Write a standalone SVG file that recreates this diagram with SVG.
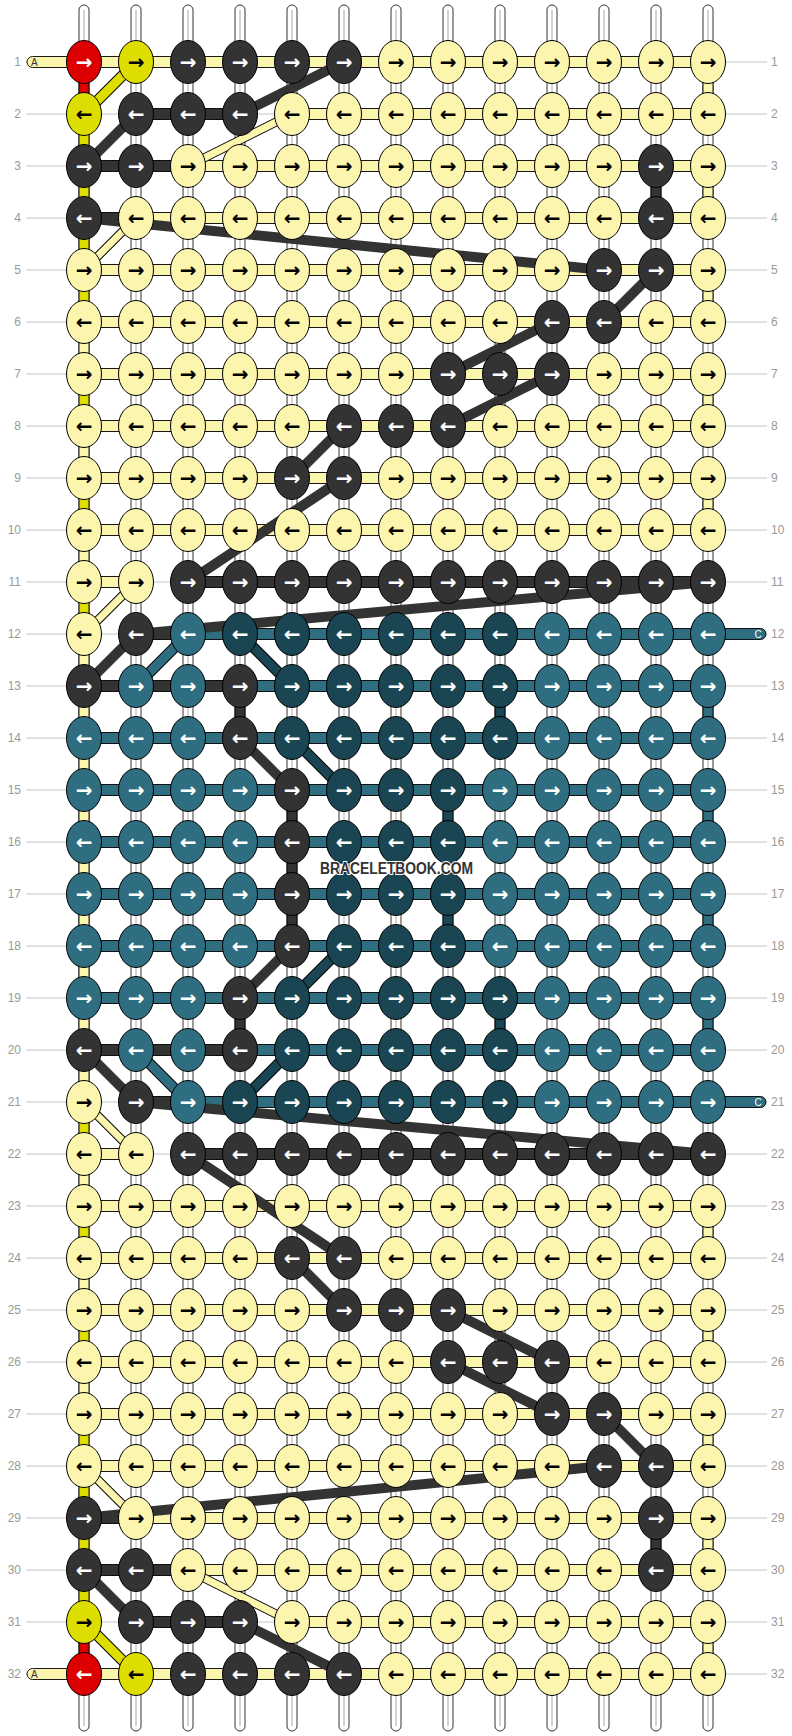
<svg xmlns="http://www.w3.org/2000/svg" width="792" height="1736" viewBox="0 0 792 1736">
<style>
.lab{font:12px "Liberation Sans",Arial,sans-serif;fill:#999}
.le{text-anchor:end}
.gl{stroke:#c4c4c4;stroke-width:1;fill:none}
.col{fill:#fff;stroke:#000;stroke-width:.8}
.cl{stroke:#aaa;stroke-width:1;fill:none}
.h,.v{stroke:#000;stroke-width:.9}
.cL{fill:#FBF5AE}.cD{fill:#333}.cT{fill:#2E6E80}.cS{fill:#1A4552}.cY{fill:#DDDD00}.cR{fill:#DD0000}
.bo{stroke:#000;stroke-width:11}.bo2{stroke:#000;stroke-width:9}
.bD{stroke:#333;stroke-width:10}.bL{stroke:#FBF5AE;stroke-width:7}.bY{stroke:#DDDD00;stroke-width:9}.bT{stroke:#2E6E80;stroke-width:9}.bS{stroke:#1A4552;stroke-width:9}
#knots ellipse{rx:17.5px;ry:21.5px;stroke:#000;stroke-width:1}
#knots text{font:bold 20px "DejaVu Sans",sans-serif;text-anchor:middle;dominant-baseline:central}
.L ellipse{fill:#FBF5AE}.L text{fill:#000}
.D ellipse{fill:#333}.D text{fill:#fff}
.T ellipse{fill:#2E6E80}.T text{fill:#fff}
.S ellipse{fill:#1A4552}.S text{fill:#fff}
.Y ellipse{fill:#DDDD00}.Y text{fill:#000}
.R ellipse{fill:#DD0000}.R text{fill:#fff}
.endA{font:10px "Liberation Sans",Arial,sans-serif;fill:#333}
.endC{font:10px "Liberation Sans",Arial,sans-serif;fill:#fff;text-anchor:middle}
.wm{font:bold 16px "Liberation Sans",Arial,sans-serif;fill:#333;stroke:#fff;stroke-width:2;paint-order:stroke}
</style>
<rect width="792" height="1736" fill="#fff"/>
<g id="guides">
<path class="gl" d="M26 62H767M26 114H767M26 166H767M26 218H767M26 270H767M26 322H767M26 374H767M26 426H767M26 478H767M26 530H767M26 582H767M26 634H767M26 686H767M26 738H767M26 790H767M26 842H767M26 894H767M26 946H767M26 998H767M26 1050H767M26 1102H767M26 1154H767M26 1206H767M26 1258H767M26 1310H767M26 1362H767M26 1414H767M26 1466H767M26 1518H767M26 1570H767M26 1622H767M26 1674H767"/>
</g>
<g id="labels" class="lab">
<text class="le" x="21" y="66">1</text><text class="le" x="21" y="118">2</text><text class="le" x="21" y="170">3</text><text class="le" x="21" y="222">4</text><text class="le" x="21" y="274">5</text><text class="le" x="21" y="326">6</text><text class="le" x="21" y="378">7</text><text class="le" x="21" y="430">8</text><text class="le" x="21" y="482">9</text><text class="le" x="21" y="534">10</text><text class="le" x="21" y="586">11</text><text class="le" x="21" y="638">12</text><text class="le" x="21" y="690">13</text><text class="le" x="21" y="742">14</text><text class="le" x="21" y="794">15</text><text class="le" x="21" y="846">16</text><text class="le" x="21" y="898">17</text><text class="le" x="21" y="950">18</text><text class="le" x="21" y="1002">19</text><text class="le" x="21" y="1054">20</text><text class="le" x="21" y="1106">21</text><text class="le" x="21" y="1158">22</text><text class="le" x="21" y="1210">23</text><text class="le" x="21" y="1262">24</text><text class="le" x="21" y="1314">25</text><text class="le" x="21" y="1366">26</text><text class="le" x="21" y="1418">27</text><text class="le" x="21" y="1470">28</text><text class="le" x="21" y="1522">29</text><text class="le" x="21" y="1574">30</text><text class="le" x="21" y="1626">31</text><text class="le" x="21" y="1678">32</text>
<text x="771" y="66">1</text><text x="771" y="118">2</text><text x="771" y="170">3</text><text x="771" y="222">4</text><text x="771" y="274">5</text><text x="771" y="326">6</text><text x="771" y="378">7</text><text x="771" y="430">8</text><text x="771" y="482">9</text><text x="771" y="534">10</text><text x="771" y="586">11</text><text x="771" y="638">12</text><text x="771" y="690">13</text><text x="771" y="742">14</text><text x="771" y="794">15</text><text x="771" y="846">16</text><text x="771" y="898">17</text><text x="771" y="950">18</text><text x="771" y="1002">19</text><text x="771" y="1054">20</text><text x="771" y="1106">21</text><text x="771" y="1158">22</text><text x="771" y="1210">23</text><text x="771" y="1262">24</text><text x="771" y="1314">25</text><text x="771" y="1366">26</text><text x="771" y="1418">27</text><text x="771" y="1470">28</text><text x="771" y="1522">29</text><text x="771" y="1574">30</text><text x="771" y="1626">31</text><text x="771" y="1678">32</text>
</g>
<g id="connectors">
<g id="strands">
<rect class="col" x="79" y="5" width="10" height="1726" rx="5"/><rect class="col" x="131" y="5" width="10" height="1726" rx="5"/><rect class="col" x="183" y="5" width="10" height="1726" rx="5"/><rect class="col" x="235" y="5" width="10" height="1726" rx="5"/><rect class="col" x="287" y="5" width="10" height="1726" rx="5"/><rect class="col" x="339" y="5" width="10" height="1726" rx="5"/><rect class="col" x="391" y="5" width="10" height="1726" rx="5"/><rect class="col" x="443" y="5" width="10" height="1726" rx="5"/><rect class="col" x="495" y="5" width="10" height="1726" rx="5"/><rect class="col" x="547" y="5" width="10" height="1726" rx="5"/><rect class="col" x="599" y="5" width="10" height="1726" rx="5"/><rect class="col" x="651" y="5" width="10" height="1726" rx="5"/><rect class="col" x="703" y="5" width="10" height="1726" rx="5"/>
<path class="cl" d="M84 10V1726M136 10V1726M188 10V1726M240 10V1726M292 10V1726M344 10V1726M396 10V1726M448 10V1726M500 10V1726M552 10V1726M604 10V1726M656 10V1726M708 10V1726"/>
</g>
<g id="verticals" class="v">
<rect class="cR" x="79" y="77" width="10" height="22"/><rect class="cY" x="79" y="129" width="10" height="22"/><rect class="cY" x="79" y="181" width="10" height="22"/><rect class="cY" x="79" y="233" width="10" height="22"/><rect class="cY" x="79" y="285" width="10" height="22"/><rect class="cL" x="79" y="337" width="10" height="22"/><rect class="cY" x="79" y="389" width="10" height="22"/><rect class="cL" x="79" y="441" width="10" height="22"/><rect class="cY" x="79" y="493" width="10" height="22"/><rect class="cL" x="79" y="545" width="10" height="22"/><rect class="cY" x="79" y="597" width="10" height="22"/><rect class="cL" x="79" y="649" width="10" height="22"/><rect class="cL" x="79" y="701" width="10" height="22"/><rect class="cL" x="79" y="753" width="10" height="22"/><rect class="cL" x="79" y="805" width="10" height="22"/><rect class="cL" x="79" y="857" width="10" height="22"/><rect class="cL" x="79" y="909" width="10" height="22"/><rect class="cL" x="79" y="961" width="10" height="22"/><rect class="cL" x="79" y="1013" width="10" height="22"/><rect class="cL" x="79" y="1065" width="10" height="22"/><rect class="cY" x="79" y="1117" width="10" height="22"/><rect class="cL" x="79" y="1169" width="10" height="22"/><rect class="cY" x="79" y="1221" width="10" height="22"/><rect class="cL" x="79" y="1273" width="10" height="22"/><rect class="cY" x="79" y="1325" width="10" height="22"/><rect class="cL" x="79" y="1377" width="10" height="22"/><rect class="cY" x="79" y="1429" width="10" height="22"/><rect class="cY" x="79" y="1481" width="10" height="22"/><rect class="cY" x="79" y="1533" width="10" height="22"/><rect class="cY" x="79" y="1585" width="10" height="22"/><rect class="cR" x="79" y="1637" width="10" height="22"/>
<rect class="cL" x="703" y="77" width="10" height="22"/><rect class="cL" x="703" y="181" width="10" height="22"/><rect class="cL" x="703" y="285" width="10" height="22"/><rect class="cL" x="703" y="389" width="10" height="22"/><rect class="cL" x="703" y="493" width="10" height="22"/><rect class="cT" x="703" y="701" width="10" height="22"/><rect class="cT" x="703" y="805" width="10" height="22"/><rect class="cT" x="703" y="909" width="10" height="22"/><rect class="cT" x="703" y="1013" width="10" height="22"/><rect class="cL" x="703" y="1221" width="10" height="22"/><rect class="cL" x="703" y="1325" width="10" height="22"/><rect class="cL" x="703" y="1429" width="10" height="22"/><rect class="cL" x="703" y="1533" width="10" height="22"/><rect class="cL" x="703" y="1637" width="10" height="22"/>
<rect class="cD" x="651" y="181" width="10" height="22"/><rect class="cD" x="235" y="701" width="10" height="22"/><rect class="cS" x="495" y="701" width="10" height="22"/><rect class="cD" x="287" y="805" width="10" height="22"/><rect class="cS" x="443" y="805" width="10" height="22"/><rect class="cD" x="287" y="857" width="10" height="22"/><rect class="cD" x="287" y="909" width="10" height="22"/><rect class="cS" x="443" y="909" width="10" height="22"/><rect class="cD" x="235" y="1013" width="10" height="22"/><rect class="cS" x="495" y="1013" width="10" height="22"/><rect class="cD" x="651" y="1533" width="10" height="22"/>
</g>
<g id="horizontals" class="h">
<rect class="cL" x="27" y="56.5" width="681" height="11" rx="5.5"/>
<rect class="cD" x="136" y="108.5" width="104" height="11"/><rect class="cL" x="292" y="108.5" width="416" height="11"/>
<rect class="cD" x="84" y="160.5" width="104" height="11"/><rect class="cL" x="188" y="160.5" width="520" height="11"/>
<rect class="cD" x="84" y="212.5" width="52" height="11"/><rect class="cL" x="136" y="212.5" width="572" height="11"/>
<rect class="cL" x="84" y="264.5" width="624" height="11"/><rect class="cL" x="84" y="316.5" width="624" height="11"/><rect class="cL" x="84" y="368.5" width="624" height="11"/><rect class="cL" x="84" y="420.5" width="624" height="11"/><rect class="cL" x="84" y="472.5" width="624" height="11"/><rect class="cL" x="84" y="524.5" width="624" height="11"/>
<rect class="cL" x="84" y="576.5" width="52" height="11"/><rect class="cD" x="188" y="576.5" width="520" height="11"/>
<rect class="cD" x="136" y="628.5" width="52" height="11"/><rect class="cT" x="188" y="628.5" width="578" height="11" rx="5.5"/>
<rect class="cD" x="84" y="680.5" width="156" height="11"/><rect class="cT" x="240" y="680.5" width="468" height="11"/>
<rect class="cT" x="84" y="732.5" width="624" height="11"/><rect class="cT" x="84" y="784.5" width="624" height="11"/><rect class="cT" x="84" y="836.5" width="624" height="11"/><rect class="cT" x="84" y="888.5" width="624" height="11"/><rect class="cT" x="84" y="940.5" width="624" height="11"/><rect class="cT" x="84" y="992.5" width="624" height="11"/>
<rect class="cD" x="84" y="1044.5" width="156" height="11"/><rect class="cT" x="240" y="1044.5" width="468" height="11"/>
<rect class="cD" x="136" y="1096.5" width="52" height="11"/><rect class="cT" x="188" y="1096.5" width="578" height="11" rx="5.5"/>
<rect class="cL" x="84" y="1148.5" width="52" height="11"/><rect class="cD" x="188" y="1148.5" width="520" height="11"/>
<rect class="cL" x="84" y="1200.5" width="624" height="11"/><rect class="cL" x="84" y="1252.5" width="624" height="11"/><rect class="cL" x="84" y="1304.5" width="624" height="11"/><rect class="cL" x="84" y="1356.5" width="624" height="11"/><rect class="cL" x="84" y="1408.5" width="624" height="11"/><rect class="cL" x="84" y="1460.5" width="624" height="11"/>
<rect class="cD" x="84" y="1512.5" width="52" height="11"/><rect class="cL" x="136" y="1512.5" width="572" height="11"/>
<rect class="cD" x="84" y="1564.5" width="104" height="11"/><rect class="cL" x="188" y="1564.5" width="520" height="11"/>
<rect class="cD" x="136" y="1616.5" width="104" height="11"/><rect class="cL" x="292" y="1616.5" width="416" height="11"/>
<rect class="cL" x="27" y="1668.5" width="681" height="11" rx="5.5"/>
</g>
<g id="ends">
<text class="endA" x="31" y="65.5">A</text><text class="endA" x="31" y="1677.5">A</text>
<text class="endC" x="758" y="637.5">C</text><text class="endC" x="758" y="1105.5">C</text>
</g>
<g id="bands">
<line class="bo" x1="136" y1="62" x2="84" y2="114"/><line class="bY" x1="136" y1="62" x2="84" y2="114"/>
<line class="bD" x1="344" y1="62" x2="240" y2="114"/>
<line class="bD" x1="136" y1="114" x2="84" y2="166"/>
<line class="bo2" x1="292" y1="114" x2="188" y2="166"/><line class="bL" x1="292" y1="114" x2="188" y2="166"/>
<line class="bD" x1="84" y1="218" x2="604" y2="270"/>
<line class="bo2" x1="136" y1="218" x2="84" y2="270"/><line class="bL" x1="136" y1="218" x2="84" y2="270"/>
<line class="bD" x1="656" y1="270" x2="604" y2="322"/>
<line class="bD" x1="552" y1="322" x2="448" y2="374"/>
<line class="bD" x1="552" y1="374" x2="448" y2="426"/>
<line class="bD" x1="344" y1="426" x2="292" y2="478"/>
<line class="bD" x1="344" y1="478" x2="188" y2="582"/>
<line class="bo2" x1="136" y1="582" x2="84" y2="634"/><line class="bL" x1="136" y1="582" x2="84" y2="634"/>
<line class="bD" x1="708" y1="582" x2="136" y2="634"/>
<line class="bD" x1="136" y1="634" x2="84" y2="686"/>
<line class="bo" x1="188" y1="634" x2="136" y2="686"/><line class="bT" x1="188" y1="634" x2="136" y2="686"/>
<line class="bo" x1="240" y1="634" x2="292" y2="686"/><line class="bS" x1="240" y1="634" x2="292" y2="686"/>
<line class="bD" x1="240" y1="738" x2="292" y2="790"/>
<line class="bo" x1="292" y1="738" x2="344" y2="790"/><line class="bS" x1="292" y1="738" x2="344" y2="790"/>
<line class="bo" x1="292" y1="998" x2="344" y2="946"/><line class="bS" x1="292" y1="998" x2="344" y2="946"/>
<line class="bD" x1="240" y1="998" x2="292" y2="946"/>
<line class="bo" x1="240" y1="1102" x2="292" y2="1050"/><line class="bS" x1="240" y1="1102" x2="292" y2="1050"/>
<line class="bo" x1="188" y1="1102" x2="136" y2="1050"/><line class="bT" x1="188" y1="1102" x2="136" y2="1050"/>
<line class="bD" x1="136" y1="1102" x2="84" y2="1050"/>
<line class="bD" x1="708" y1="1154" x2="136" y2="1102"/>
<line class="bo2" x1="136" y1="1154" x2="84" y2="1102"/><line class="bL" x1="136" y1="1154" x2="84" y2="1102"/>
<line class="bD" x1="344" y1="1258" x2="188" y2="1154"/>
<line class="bD" x1="344" y1="1310" x2="292" y2="1258"/>
<line class="bD" x1="552" y1="1362" x2="448" y2="1310"/>
<line class="bD" x1="552" y1="1414" x2="448" y2="1362"/>
<line class="bD" x1="656" y1="1466" x2="604" y2="1414"/>
<line class="bo2" x1="136" y1="1518" x2="84" y2="1466"/><line class="bL" x1="136" y1="1518" x2="84" y2="1466"/>
<line class="bD" x1="84" y1="1518" x2="604" y2="1466"/>
<line class="bo2" x1="292" y1="1622" x2="188" y2="1570"/><line class="bL" x1="292" y1="1622" x2="188" y2="1570"/>
<line class="bD" x1="136" y1="1622" x2="84" y2="1570"/>
<line class="bD" x1="344" y1="1674" x2="240" y2="1622"/>
<line class="bo" x1="136" y1="1674" x2="84" y2="1622"/><line class="bY" x1="136" y1="1674" x2="84" y2="1622"/>
</g>
</g>
<g id="knots">
<g id="k1-1" class="R" transform="translate(84 62)"><ellipse/><text>→</text></g><g id="k1-2" class="Y" transform="translate(136 62)"><ellipse/><text>→</text></g><g id="k1-3" class="D" transform="translate(188 62)"><ellipse/><text>→</text></g><g id="k1-4" class="D" transform="translate(240 62)"><ellipse/><text>→</text></g><g id="k1-5" class="D" transform="translate(292 62)"><ellipse/><text>→</text></g><g id="k1-6" class="D" transform="translate(344 62)"><ellipse/><text>→</text></g><g id="k1-7" class="L" transform="translate(396 62)"><ellipse/><text>→</text></g><g id="k1-8" class="L" transform="translate(448 62)"><ellipse/><text>→</text></g><g id="k1-9" class="L" transform="translate(500 62)"><ellipse/><text>→</text></g><g id="k1-10" class="L" transform="translate(552 62)"><ellipse/><text>→</text></g><g id="k1-11" class="L" transform="translate(604 62)"><ellipse/><text>→</text></g><g id="k1-12" class="L" transform="translate(656 62)"><ellipse/><text>→</text></g><g id="k1-13" class="L" transform="translate(708 62)"><ellipse/><text>→</text></g>
<g id="k2-1" class="Y" transform="translate(84 114)"><ellipse/><text>←</text></g><g id="k2-2" class="D" transform="translate(136 114)"><ellipse/><text>←</text></g><g id="k2-3" class="D" transform="translate(188 114)"><ellipse/><text>←</text></g><g id="k2-4" class="D" transform="translate(240 114)"><ellipse/><text>←</text></g><g id="k2-5" class="L" transform="translate(292 114)"><ellipse/><text>←</text></g><g id="k2-6" class="L" transform="translate(344 114)"><ellipse/><text>←</text></g><g id="k2-7" class="L" transform="translate(396 114)"><ellipse/><text>←</text></g><g id="k2-8" class="L" transform="translate(448 114)"><ellipse/><text>←</text></g><g id="k2-9" class="L" transform="translate(500 114)"><ellipse/><text>←</text></g><g id="k2-10" class="L" transform="translate(552 114)"><ellipse/><text>←</text></g><g id="k2-11" class="L" transform="translate(604 114)"><ellipse/><text>←</text></g><g id="k2-12" class="L" transform="translate(656 114)"><ellipse/><text>←</text></g><g id="k2-13" class="L" transform="translate(708 114)"><ellipse/><text>←</text></g>
<g id="k3-1" class="D" transform="translate(84 166)"><ellipse/><text>→</text></g><g id="k3-2" class="D" transform="translate(136 166)"><ellipse/><text>→</text></g><g id="k3-3" class="L" transform="translate(188 166)"><ellipse/><text>→</text></g><g id="k3-4" class="L" transform="translate(240 166)"><ellipse/><text>→</text></g><g id="k3-5" class="L" transform="translate(292 166)"><ellipse/><text>→</text></g><g id="k3-6" class="L" transform="translate(344 166)"><ellipse/><text>→</text></g><g id="k3-7" class="L" transform="translate(396 166)"><ellipse/><text>→</text></g><g id="k3-8" class="L" transform="translate(448 166)"><ellipse/><text>→</text></g><g id="k3-9" class="L" transform="translate(500 166)"><ellipse/><text>→</text></g><g id="k3-10" class="L" transform="translate(552 166)"><ellipse/><text>→</text></g><g id="k3-11" class="L" transform="translate(604 166)"><ellipse/><text>→</text></g><g id="k3-12" class="D" transform="translate(656 166)"><ellipse/><text>→</text></g><g id="k3-13" class="L" transform="translate(708 166)"><ellipse/><text>→</text></g>
<g id="k4-1" class="D" transform="translate(84 218)"><ellipse/><text>←</text></g><g id="k4-2" class="L" transform="translate(136 218)"><ellipse/><text>←</text></g><g id="k4-3" class="L" transform="translate(188 218)"><ellipse/><text>←</text></g><g id="k4-4" class="L" transform="translate(240 218)"><ellipse/><text>←</text></g><g id="k4-5" class="L" transform="translate(292 218)"><ellipse/><text>←</text></g><g id="k4-6" class="L" transform="translate(344 218)"><ellipse/><text>←</text></g><g id="k4-7" class="L" transform="translate(396 218)"><ellipse/><text>←</text></g><g id="k4-8" class="L" transform="translate(448 218)"><ellipse/><text>←</text></g><g id="k4-9" class="L" transform="translate(500 218)"><ellipse/><text>←</text></g><g id="k4-10" class="L" transform="translate(552 218)"><ellipse/><text>←</text></g><g id="k4-11" class="L" transform="translate(604 218)"><ellipse/><text>←</text></g><g id="k4-12" class="D" transform="translate(656 218)"><ellipse/><text>←</text></g><g id="k4-13" class="L" transform="translate(708 218)"><ellipse/><text>←</text></g>
<g id="k5-1" class="L" transform="translate(84 270)"><ellipse/><text>→</text></g><g id="k5-2" class="L" transform="translate(136 270)"><ellipse/><text>→</text></g><g id="k5-3" class="L" transform="translate(188 270)"><ellipse/><text>→</text></g><g id="k5-4" class="L" transform="translate(240 270)"><ellipse/><text>→</text></g><g id="k5-5" class="L" transform="translate(292 270)"><ellipse/><text>→</text></g><g id="k5-6" class="L" transform="translate(344 270)"><ellipse/><text>→</text></g><g id="k5-7" class="L" transform="translate(396 270)"><ellipse/><text>→</text></g><g id="k5-8" class="L" transform="translate(448 270)"><ellipse/><text>→</text></g><g id="k5-9" class="L" transform="translate(500 270)"><ellipse/><text>→</text></g><g id="k5-10" class="L" transform="translate(552 270)"><ellipse/><text>→</text></g><g id="k5-11" class="D" transform="translate(604 270)"><ellipse/><text>→</text></g><g id="k5-12" class="D" transform="translate(656 270)"><ellipse/><text>→</text></g><g id="k5-13" class="L" transform="translate(708 270)"><ellipse/><text>→</text></g>
<g id="k6-1" class="L" transform="translate(84 322)"><ellipse/><text>←</text></g><g id="k6-2" class="L" transform="translate(136 322)"><ellipse/><text>←</text></g><g id="k6-3" class="L" transform="translate(188 322)"><ellipse/><text>←</text></g><g id="k6-4" class="L" transform="translate(240 322)"><ellipse/><text>←</text></g><g id="k6-5" class="L" transform="translate(292 322)"><ellipse/><text>←</text></g><g id="k6-6" class="L" transform="translate(344 322)"><ellipse/><text>←</text></g><g id="k6-7" class="L" transform="translate(396 322)"><ellipse/><text>←</text></g><g id="k6-8" class="L" transform="translate(448 322)"><ellipse/><text>←</text></g><g id="k6-9" class="L" transform="translate(500 322)"><ellipse/><text>←</text></g><g id="k6-10" class="D" transform="translate(552 322)"><ellipse/><text>←</text></g><g id="k6-11" class="D" transform="translate(604 322)"><ellipse/><text>←</text></g><g id="k6-12" class="L" transform="translate(656 322)"><ellipse/><text>←</text></g><g id="k6-13" class="L" transform="translate(708 322)"><ellipse/><text>←</text></g>
<g id="k7-1" class="L" transform="translate(84 374)"><ellipse/><text>→</text></g><g id="k7-2" class="L" transform="translate(136 374)"><ellipse/><text>→</text></g><g id="k7-3" class="L" transform="translate(188 374)"><ellipse/><text>→</text></g><g id="k7-4" class="L" transform="translate(240 374)"><ellipse/><text>→</text></g><g id="k7-5" class="L" transform="translate(292 374)"><ellipse/><text>→</text></g><g id="k7-6" class="L" transform="translate(344 374)"><ellipse/><text>→</text></g><g id="k7-7" class="L" transform="translate(396 374)"><ellipse/><text>→</text></g><g id="k7-8" class="D" transform="translate(448 374)"><ellipse/><text>→</text></g><g id="k7-9" class="D" transform="translate(500 374)"><ellipse/><text>→</text></g><g id="k7-10" class="D" transform="translate(552 374)"><ellipse/><text>→</text></g><g id="k7-11" class="L" transform="translate(604 374)"><ellipse/><text>→</text></g><g id="k7-12" class="L" transform="translate(656 374)"><ellipse/><text>→</text></g><g id="k7-13" class="L" transform="translate(708 374)"><ellipse/><text>→</text></g>
<g id="k8-1" class="L" transform="translate(84 426)"><ellipse/><text>←</text></g><g id="k8-2" class="L" transform="translate(136 426)"><ellipse/><text>←</text></g><g id="k8-3" class="L" transform="translate(188 426)"><ellipse/><text>←</text></g><g id="k8-4" class="L" transform="translate(240 426)"><ellipse/><text>←</text></g><g id="k8-5" class="L" transform="translate(292 426)"><ellipse/><text>←</text></g><g id="k8-6" class="D" transform="translate(344 426)"><ellipse/><text>←</text></g><g id="k8-7" class="D" transform="translate(396 426)"><ellipse/><text>←</text></g><g id="k8-8" class="D" transform="translate(448 426)"><ellipse/><text>←</text></g><g id="k8-9" class="L" transform="translate(500 426)"><ellipse/><text>←</text></g><g id="k8-10" class="L" transform="translate(552 426)"><ellipse/><text>←</text></g><g id="k8-11" class="L" transform="translate(604 426)"><ellipse/><text>←</text></g><g id="k8-12" class="L" transform="translate(656 426)"><ellipse/><text>←</text></g><g id="k8-13" class="L" transform="translate(708 426)"><ellipse/><text>←</text></g>
<g id="k9-1" class="L" transform="translate(84 478)"><ellipse/><text>→</text></g><g id="k9-2" class="L" transform="translate(136 478)"><ellipse/><text>→</text></g><g id="k9-3" class="L" transform="translate(188 478)"><ellipse/><text>→</text></g><g id="k9-4" class="L" transform="translate(240 478)"><ellipse/><text>→</text></g><g id="k9-5" class="D" transform="translate(292 478)"><ellipse/><text>→</text></g><g id="k9-6" class="D" transform="translate(344 478)"><ellipse/><text>→</text></g><g id="k9-7" class="L" transform="translate(396 478)"><ellipse/><text>→</text></g><g id="k9-8" class="L" transform="translate(448 478)"><ellipse/><text>→</text></g><g id="k9-9" class="L" transform="translate(500 478)"><ellipse/><text>→</text></g><g id="k9-10" class="L" transform="translate(552 478)"><ellipse/><text>→</text></g><g id="k9-11" class="L" transform="translate(604 478)"><ellipse/><text>→</text></g><g id="k9-12" class="L" transform="translate(656 478)"><ellipse/><text>→</text></g><g id="k9-13" class="L" transform="translate(708 478)"><ellipse/><text>→</text></g>
<g id="k10-1" class="L" transform="translate(84 530)"><ellipse/><text>←</text></g><g id="k10-2" class="L" transform="translate(136 530)"><ellipse/><text>←</text></g><g id="k10-3" class="L" transform="translate(188 530)"><ellipse/><text>←</text></g><g id="k10-4" class="L" transform="translate(240 530)"><ellipse/><text>←</text></g><g id="k10-5" class="L" transform="translate(292 530)"><ellipse/><text>←</text></g><g id="k10-6" class="L" transform="translate(344 530)"><ellipse/><text>←</text></g><g id="k10-7" class="L" transform="translate(396 530)"><ellipse/><text>←</text></g><g id="k10-8" class="L" transform="translate(448 530)"><ellipse/><text>←</text></g><g id="k10-9" class="L" transform="translate(500 530)"><ellipse/><text>←</text></g><g id="k10-10" class="L" transform="translate(552 530)"><ellipse/><text>←</text></g><g id="k10-11" class="L" transform="translate(604 530)"><ellipse/><text>←</text></g><g id="k10-12" class="L" transform="translate(656 530)"><ellipse/><text>←</text></g><g id="k10-13" class="L" transform="translate(708 530)"><ellipse/><text>←</text></g>
<g id="k11-1" class="L" transform="translate(84 582)"><ellipse/><text>→</text></g><g id="k11-2" class="L" transform="translate(136 582)"><ellipse/><text>→</text></g><g id="k11-3" class="D" transform="translate(188 582)"><ellipse/><text>→</text></g><g id="k11-4" class="D" transform="translate(240 582)"><ellipse/><text>→</text></g><g id="k11-5" class="D" transform="translate(292 582)"><ellipse/><text>→</text></g><g id="k11-6" class="D" transform="translate(344 582)"><ellipse/><text>→</text></g><g id="k11-7" class="D" transform="translate(396 582)"><ellipse/><text>→</text></g><g id="k11-8" class="D" transform="translate(448 582)"><ellipse/><text>→</text></g><g id="k11-9" class="D" transform="translate(500 582)"><ellipse/><text>→</text></g><g id="k11-10" class="D" transform="translate(552 582)"><ellipse/><text>→</text></g><g id="k11-11" class="D" transform="translate(604 582)"><ellipse/><text>→</text></g><g id="k11-12" class="D" transform="translate(656 582)"><ellipse/><text>→</text></g><g id="k11-13" class="D" transform="translate(708 582)"><ellipse/><text>→</text></g>
<g id="k12-1" class="L" transform="translate(84 634)"><ellipse/><text>←</text></g><g id="k12-2" class="D" transform="translate(136 634)"><ellipse/><text>←</text></g><g id="k12-3" class="T" transform="translate(188 634)"><ellipse/><text>←</text></g><g id="k12-4" class="S" transform="translate(240 634)"><ellipse/><text>←</text></g><g id="k12-5" class="S" transform="translate(292 634)"><ellipse/><text>←</text></g><g id="k12-6" class="S" transform="translate(344 634)"><ellipse/><text>←</text></g><g id="k12-7" class="S" transform="translate(396 634)"><ellipse/><text>←</text></g><g id="k12-8" class="S" transform="translate(448 634)"><ellipse/><text>←</text></g><g id="k12-9" class="S" transform="translate(500 634)"><ellipse/><text>←</text></g><g id="k12-10" class="T" transform="translate(552 634)"><ellipse/><text>←</text></g><g id="k12-11" class="T" transform="translate(604 634)"><ellipse/><text>←</text></g><g id="k12-12" class="T" transform="translate(656 634)"><ellipse/><text>←</text></g><g id="k12-13" class="T" transform="translate(708 634)"><ellipse/><text>←</text></g>
<g id="k13-1" class="D" transform="translate(84 686)"><ellipse/><text>→</text></g><g id="k13-2" class="T" transform="translate(136 686)"><ellipse/><text>→</text></g><g id="k13-3" class="T" transform="translate(188 686)"><ellipse/><text>→</text></g><g id="k13-4" class="D" transform="translate(240 686)"><ellipse/><text>→</text></g><g id="k13-5" class="S" transform="translate(292 686)"><ellipse/><text>→</text></g><g id="k13-6" class="S" transform="translate(344 686)"><ellipse/><text>→</text></g><g id="k13-7" class="S" transform="translate(396 686)"><ellipse/><text>→</text></g><g id="k13-8" class="S" transform="translate(448 686)"><ellipse/><text>→</text></g><g id="k13-9" class="S" transform="translate(500 686)"><ellipse/><text>→</text></g><g id="k13-10" class="T" transform="translate(552 686)"><ellipse/><text>→</text></g><g id="k13-11" class="T" transform="translate(604 686)"><ellipse/><text>→</text></g><g id="k13-12" class="T" transform="translate(656 686)"><ellipse/><text>→</text></g><g id="k13-13" class="T" transform="translate(708 686)"><ellipse/><text>→</text></g>
<g id="k14-1" class="T" transform="translate(84 738)"><ellipse/><text>←</text></g><g id="k14-2" class="T" transform="translate(136 738)"><ellipse/><text>←</text></g><g id="k14-3" class="T" transform="translate(188 738)"><ellipse/><text>←</text></g><g id="k14-4" class="D" transform="translate(240 738)"><ellipse/><text>←</text></g><g id="k14-5" class="S" transform="translate(292 738)"><ellipse/><text>←</text></g><g id="k14-6" class="S" transform="translate(344 738)"><ellipse/><text>←</text></g><g id="k14-7" class="S" transform="translate(396 738)"><ellipse/><text>←</text></g><g id="k14-8" class="S" transform="translate(448 738)"><ellipse/><text>←</text></g><g id="k14-9" class="S" transform="translate(500 738)"><ellipse/><text>←</text></g><g id="k14-10" class="T" transform="translate(552 738)"><ellipse/><text>←</text></g><g id="k14-11" class="T" transform="translate(604 738)"><ellipse/><text>←</text></g><g id="k14-12" class="T" transform="translate(656 738)"><ellipse/><text>←</text></g><g id="k14-13" class="T" transform="translate(708 738)"><ellipse/><text>←</text></g>
<g id="k15-1" class="T" transform="translate(84 790)"><ellipse/><text>→</text></g><g id="k15-2" class="T" transform="translate(136 790)"><ellipse/><text>→</text></g><g id="k15-3" class="T" transform="translate(188 790)"><ellipse/><text>→</text></g><g id="k15-4" class="T" transform="translate(240 790)"><ellipse/><text>→</text></g><g id="k15-5" class="D" transform="translate(292 790)"><ellipse/><text>→</text></g><g id="k15-6" class="S" transform="translate(344 790)"><ellipse/><text>→</text></g><g id="k15-7" class="S" transform="translate(396 790)"><ellipse/><text>→</text></g><g id="k15-8" class="S" transform="translate(448 790)"><ellipse/><text>→</text></g><g id="k15-9" class="T" transform="translate(500 790)"><ellipse/><text>→</text></g><g id="k15-10" class="T" transform="translate(552 790)"><ellipse/><text>→</text></g><g id="k15-11" class="T" transform="translate(604 790)"><ellipse/><text>→</text></g><g id="k15-12" class="T" transform="translate(656 790)"><ellipse/><text>→</text></g><g id="k15-13" class="T" transform="translate(708 790)"><ellipse/><text>→</text></g>
<g id="k16-1" class="T" transform="translate(84 842)"><ellipse/><text>←</text></g><g id="k16-2" class="T" transform="translate(136 842)"><ellipse/><text>←</text></g><g id="k16-3" class="T" transform="translate(188 842)"><ellipse/><text>←</text></g><g id="k16-4" class="T" transform="translate(240 842)"><ellipse/><text>←</text></g><g id="k16-5" class="D" transform="translate(292 842)"><ellipse/><text>←</text></g><g id="k16-6" class="S" transform="translate(344 842)"><ellipse/><text>←</text></g><g id="k16-7" class="S" transform="translate(396 842)"><ellipse/><text>←</text></g><g id="k16-8" class="S" transform="translate(448 842)"><ellipse/><text>←</text></g><g id="k16-9" class="T" transform="translate(500 842)"><ellipse/><text>←</text></g><g id="k16-10" class="T" transform="translate(552 842)"><ellipse/><text>←</text></g><g id="k16-11" class="T" transform="translate(604 842)"><ellipse/><text>←</text></g><g id="k16-12" class="T" transform="translate(656 842)"><ellipse/><text>←</text></g><g id="k16-13" class="T" transform="translate(708 842)"><ellipse/><text>←</text></g>
<g id="k17-1" class="T" transform="translate(84 894)"><ellipse/><text>→</text></g><g id="k17-2" class="T" transform="translate(136 894)"><ellipse/><text>→</text></g><g id="k17-3" class="T" transform="translate(188 894)"><ellipse/><text>→</text></g><g id="k17-4" class="T" transform="translate(240 894)"><ellipse/><text>→</text></g><g id="k17-5" class="D" transform="translate(292 894)"><ellipse/><text>→</text></g><g id="k17-6" class="S" transform="translate(344 894)"><ellipse/><text>→</text></g><g id="k17-7" class="S" transform="translate(396 894)"><ellipse/><text>→</text></g><g id="k17-8" class="S" transform="translate(448 894)"><ellipse/><text>→</text></g><g id="k17-9" class="T" transform="translate(500 894)"><ellipse/><text>→</text></g><g id="k17-10" class="T" transform="translate(552 894)"><ellipse/><text>→</text></g><g id="k17-11" class="T" transform="translate(604 894)"><ellipse/><text>→</text></g><g id="k17-12" class="T" transform="translate(656 894)"><ellipse/><text>→</text></g><g id="k17-13" class="T" transform="translate(708 894)"><ellipse/><text>→</text></g>
<g id="k18-1" class="T" transform="translate(84 946)"><ellipse/><text>←</text></g><g id="k18-2" class="T" transform="translate(136 946)"><ellipse/><text>←</text></g><g id="k18-3" class="T" transform="translate(188 946)"><ellipse/><text>←</text></g><g id="k18-4" class="T" transform="translate(240 946)"><ellipse/><text>←</text></g><g id="k18-5" class="D" transform="translate(292 946)"><ellipse/><text>←</text></g><g id="k18-6" class="S" transform="translate(344 946)"><ellipse/><text>←</text></g><g id="k18-7" class="S" transform="translate(396 946)"><ellipse/><text>←</text></g><g id="k18-8" class="S" transform="translate(448 946)"><ellipse/><text>←</text></g><g id="k18-9" class="T" transform="translate(500 946)"><ellipse/><text>←</text></g><g id="k18-10" class="T" transform="translate(552 946)"><ellipse/><text>←</text></g><g id="k18-11" class="T" transform="translate(604 946)"><ellipse/><text>←</text></g><g id="k18-12" class="T" transform="translate(656 946)"><ellipse/><text>←</text></g><g id="k18-13" class="T" transform="translate(708 946)"><ellipse/><text>←</text></g>
<g id="k19-1" class="T" transform="translate(84 998)"><ellipse/><text>→</text></g><g id="k19-2" class="T" transform="translate(136 998)"><ellipse/><text>→</text></g><g id="k19-3" class="T" transform="translate(188 998)"><ellipse/><text>→</text></g><g id="k19-4" class="D" transform="translate(240 998)"><ellipse/><text>→</text></g><g id="k19-5" class="S" transform="translate(292 998)"><ellipse/><text>→</text></g><g id="k19-6" class="S" transform="translate(344 998)"><ellipse/><text>→</text></g><g id="k19-7" class="S" transform="translate(396 998)"><ellipse/><text>→</text></g><g id="k19-8" class="S" transform="translate(448 998)"><ellipse/><text>→</text></g><g id="k19-9" class="S" transform="translate(500 998)"><ellipse/><text>→</text></g><g id="k19-10" class="T" transform="translate(552 998)"><ellipse/><text>→</text></g><g id="k19-11" class="T" transform="translate(604 998)"><ellipse/><text>→</text></g><g id="k19-12" class="T" transform="translate(656 998)"><ellipse/><text>→</text></g><g id="k19-13" class="T" transform="translate(708 998)"><ellipse/><text>→</text></g>
<g id="k20-1" class="D" transform="translate(84 1050)"><ellipse/><text>←</text></g><g id="k20-2" class="T" transform="translate(136 1050)"><ellipse/><text>←</text></g><g id="k20-3" class="T" transform="translate(188 1050)"><ellipse/><text>←</text></g><g id="k20-4" class="D" transform="translate(240 1050)"><ellipse/><text>←</text></g><g id="k20-5" class="S" transform="translate(292 1050)"><ellipse/><text>←</text></g><g id="k20-6" class="S" transform="translate(344 1050)"><ellipse/><text>←</text></g><g id="k20-7" class="S" transform="translate(396 1050)"><ellipse/><text>←</text></g><g id="k20-8" class="S" transform="translate(448 1050)"><ellipse/><text>←</text></g><g id="k20-9" class="S" transform="translate(500 1050)"><ellipse/><text>←</text></g><g id="k20-10" class="T" transform="translate(552 1050)"><ellipse/><text>←</text></g><g id="k20-11" class="T" transform="translate(604 1050)"><ellipse/><text>←</text></g><g id="k20-12" class="T" transform="translate(656 1050)"><ellipse/><text>←</text></g><g id="k20-13" class="T" transform="translate(708 1050)"><ellipse/><text>←</text></g>
<g id="k21-1" class="L" transform="translate(84 1102)"><ellipse/><text>→</text></g><g id="k21-2" class="D" transform="translate(136 1102)"><ellipse/><text>→</text></g><g id="k21-3" class="T" transform="translate(188 1102)"><ellipse/><text>→</text></g><g id="k21-4" class="S" transform="translate(240 1102)"><ellipse/><text>→</text></g><g id="k21-5" class="S" transform="translate(292 1102)"><ellipse/><text>→</text></g><g id="k21-6" class="S" transform="translate(344 1102)"><ellipse/><text>→</text></g><g id="k21-7" class="S" transform="translate(396 1102)"><ellipse/><text>→</text></g><g id="k21-8" class="S" transform="translate(448 1102)"><ellipse/><text>→</text></g><g id="k21-9" class="S" transform="translate(500 1102)"><ellipse/><text>→</text></g><g id="k21-10" class="T" transform="translate(552 1102)"><ellipse/><text>→</text></g><g id="k21-11" class="T" transform="translate(604 1102)"><ellipse/><text>→</text></g><g id="k21-12" class="T" transform="translate(656 1102)"><ellipse/><text>→</text></g><g id="k21-13" class="T" transform="translate(708 1102)"><ellipse/><text>→</text></g>
<g id="k22-1" class="L" transform="translate(84 1154)"><ellipse/><text>←</text></g><g id="k22-2" class="L" transform="translate(136 1154)"><ellipse/><text>←</text></g><g id="k22-3" class="D" transform="translate(188 1154)"><ellipse/><text>←</text></g><g id="k22-4" class="D" transform="translate(240 1154)"><ellipse/><text>←</text></g><g id="k22-5" class="D" transform="translate(292 1154)"><ellipse/><text>←</text></g><g id="k22-6" class="D" transform="translate(344 1154)"><ellipse/><text>←</text></g><g id="k22-7" class="D" transform="translate(396 1154)"><ellipse/><text>←</text></g><g id="k22-8" class="D" transform="translate(448 1154)"><ellipse/><text>←</text></g><g id="k22-9" class="D" transform="translate(500 1154)"><ellipse/><text>←</text></g><g id="k22-10" class="D" transform="translate(552 1154)"><ellipse/><text>←</text></g><g id="k22-11" class="D" transform="translate(604 1154)"><ellipse/><text>←</text></g><g id="k22-12" class="D" transform="translate(656 1154)"><ellipse/><text>←</text></g><g id="k22-13" class="D" transform="translate(708 1154)"><ellipse/><text>←</text></g>
<g id="k23-1" class="L" transform="translate(84 1206)"><ellipse/><text>→</text></g><g id="k23-2" class="L" transform="translate(136 1206)"><ellipse/><text>→</text></g><g id="k23-3" class="L" transform="translate(188 1206)"><ellipse/><text>→</text></g><g id="k23-4" class="L" transform="translate(240 1206)"><ellipse/><text>→</text></g><g id="k23-5" class="L" transform="translate(292 1206)"><ellipse/><text>→</text></g><g id="k23-6" class="L" transform="translate(344 1206)"><ellipse/><text>→</text></g><g id="k23-7" class="L" transform="translate(396 1206)"><ellipse/><text>→</text></g><g id="k23-8" class="L" transform="translate(448 1206)"><ellipse/><text>→</text></g><g id="k23-9" class="L" transform="translate(500 1206)"><ellipse/><text>→</text></g><g id="k23-10" class="L" transform="translate(552 1206)"><ellipse/><text>→</text></g><g id="k23-11" class="L" transform="translate(604 1206)"><ellipse/><text>→</text></g><g id="k23-12" class="L" transform="translate(656 1206)"><ellipse/><text>→</text></g><g id="k23-13" class="L" transform="translate(708 1206)"><ellipse/><text>→</text></g>
<g id="k24-1" class="L" transform="translate(84 1258)"><ellipse/><text>←</text></g><g id="k24-2" class="L" transform="translate(136 1258)"><ellipse/><text>←</text></g><g id="k24-3" class="L" transform="translate(188 1258)"><ellipse/><text>←</text></g><g id="k24-4" class="L" transform="translate(240 1258)"><ellipse/><text>←</text></g><g id="k24-5" class="D" transform="translate(292 1258)"><ellipse/><text>←</text></g><g id="k24-6" class="D" transform="translate(344 1258)"><ellipse/><text>←</text></g><g id="k24-7" class="L" transform="translate(396 1258)"><ellipse/><text>←</text></g><g id="k24-8" class="L" transform="translate(448 1258)"><ellipse/><text>←</text></g><g id="k24-9" class="L" transform="translate(500 1258)"><ellipse/><text>←</text></g><g id="k24-10" class="L" transform="translate(552 1258)"><ellipse/><text>←</text></g><g id="k24-11" class="L" transform="translate(604 1258)"><ellipse/><text>←</text></g><g id="k24-12" class="L" transform="translate(656 1258)"><ellipse/><text>←</text></g><g id="k24-13" class="L" transform="translate(708 1258)"><ellipse/><text>←</text></g>
<g id="k25-1" class="L" transform="translate(84 1310)"><ellipse/><text>→</text></g><g id="k25-2" class="L" transform="translate(136 1310)"><ellipse/><text>→</text></g><g id="k25-3" class="L" transform="translate(188 1310)"><ellipse/><text>→</text></g><g id="k25-4" class="L" transform="translate(240 1310)"><ellipse/><text>→</text></g><g id="k25-5" class="L" transform="translate(292 1310)"><ellipse/><text>→</text></g><g id="k25-6" class="D" transform="translate(344 1310)"><ellipse/><text>→</text></g><g id="k25-7" class="D" transform="translate(396 1310)"><ellipse/><text>→</text></g><g id="k25-8" class="D" transform="translate(448 1310)"><ellipse/><text>→</text></g><g id="k25-9" class="L" transform="translate(500 1310)"><ellipse/><text>→</text></g><g id="k25-10" class="L" transform="translate(552 1310)"><ellipse/><text>→</text></g><g id="k25-11" class="L" transform="translate(604 1310)"><ellipse/><text>→</text></g><g id="k25-12" class="L" transform="translate(656 1310)"><ellipse/><text>→</text></g><g id="k25-13" class="L" transform="translate(708 1310)"><ellipse/><text>→</text></g>
<g id="k26-1" class="L" transform="translate(84 1362)"><ellipse/><text>←</text></g><g id="k26-2" class="L" transform="translate(136 1362)"><ellipse/><text>←</text></g><g id="k26-3" class="L" transform="translate(188 1362)"><ellipse/><text>←</text></g><g id="k26-4" class="L" transform="translate(240 1362)"><ellipse/><text>←</text></g><g id="k26-5" class="L" transform="translate(292 1362)"><ellipse/><text>←</text></g><g id="k26-6" class="L" transform="translate(344 1362)"><ellipse/><text>←</text></g><g id="k26-7" class="L" transform="translate(396 1362)"><ellipse/><text>←</text></g><g id="k26-8" class="D" transform="translate(448 1362)"><ellipse/><text>←</text></g><g id="k26-9" class="D" transform="translate(500 1362)"><ellipse/><text>←</text></g><g id="k26-10" class="D" transform="translate(552 1362)"><ellipse/><text>←</text></g><g id="k26-11" class="L" transform="translate(604 1362)"><ellipse/><text>←</text></g><g id="k26-12" class="L" transform="translate(656 1362)"><ellipse/><text>←</text></g><g id="k26-13" class="L" transform="translate(708 1362)"><ellipse/><text>←</text></g>
<g id="k27-1" class="L" transform="translate(84 1414)"><ellipse/><text>→</text></g><g id="k27-2" class="L" transform="translate(136 1414)"><ellipse/><text>→</text></g><g id="k27-3" class="L" transform="translate(188 1414)"><ellipse/><text>→</text></g><g id="k27-4" class="L" transform="translate(240 1414)"><ellipse/><text>→</text></g><g id="k27-5" class="L" transform="translate(292 1414)"><ellipse/><text>→</text></g><g id="k27-6" class="L" transform="translate(344 1414)"><ellipse/><text>→</text></g><g id="k27-7" class="L" transform="translate(396 1414)"><ellipse/><text>→</text></g><g id="k27-8" class="L" transform="translate(448 1414)"><ellipse/><text>→</text></g><g id="k27-9" class="L" transform="translate(500 1414)"><ellipse/><text>→</text></g><g id="k27-10" class="D" transform="translate(552 1414)"><ellipse/><text>→</text></g><g id="k27-11" class="D" transform="translate(604 1414)"><ellipse/><text>→</text></g><g id="k27-12" class="L" transform="translate(656 1414)"><ellipse/><text>→</text></g><g id="k27-13" class="L" transform="translate(708 1414)"><ellipse/><text>→</text></g>
<g id="k28-1" class="L" transform="translate(84 1466)"><ellipse/><text>←</text></g><g id="k28-2" class="L" transform="translate(136 1466)"><ellipse/><text>←</text></g><g id="k28-3" class="L" transform="translate(188 1466)"><ellipse/><text>←</text></g><g id="k28-4" class="L" transform="translate(240 1466)"><ellipse/><text>←</text></g><g id="k28-5" class="L" transform="translate(292 1466)"><ellipse/><text>←</text></g><g id="k28-6" class="L" transform="translate(344 1466)"><ellipse/><text>←</text></g><g id="k28-7" class="L" transform="translate(396 1466)"><ellipse/><text>←</text></g><g id="k28-8" class="L" transform="translate(448 1466)"><ellipse/><text>←</text></g><g id="k28-9" class="L" transform="translate(500 1466)"><ellipse/><text>←</text></g><g id="k28-10" class="L" transform="translate(552 1466)"><ellipse/><text>←</text></g><g id="k28-11" class="D" transform="translate(604 1466)"><ellipse/><text>←</text></g><g id="k28-12" class="D" transform="translate(656 1466)"><ellipse/><text>←</text></g><g id="k28-13" class="L" transform="translate(708 1466)"><ellipse/><text>←</text></g>
<g id="k29-1" class="D" transform="translate(84 1518)"><ellipse/><text>→</text></g><g id="k29-2" class="L" transform="translate(136 1518)"><ellipse/><text>→</text></g><g id="k29-3" class="L" transform="translate(188 1518)"><ellipse/><text>→</text></g><g id="k29-4" class="L" transform="translate(240 1518)"><ellipse/><text>→</text></g><g id="k29-5" class="L" transform="translate(292 1518)"><ellipse/><text>→</text></g><g id="k29-6" class="L" transform="translate(344 1518)"><ellipse/><text>→</text></g><g id="k29-7" class="L" transform="translate(396 1518)"><ellipse/><text>→</text></g><g id="k29-8" class="L" transform="translate(448 1518)"><ellipse/><text>→</text></g><g id="k29-9" class="L" transform="translate(500 1518)"><ellipse/><text>→</text></g><g id="k29-10" class="L" transform="translate(552 1518)"><ellipse/><text>→</text></g><g id="k29-11" class="L" transform="translate(604 1518)"><ellipse/><text>→</text></g><g id="k29-12" class="D" transform="translate(656 1518)"><ellipse/><text>→</text></g><g id="k29-13" class="L" transform="translate(708 1518)"><ellipse/><text>→</text></g>
<g id="k30-1" class="D" transform="translate(84 1570)"><ellipse/><text>←</text></g><g id="k30-2" class="D" transform="translate(136 1570)"><ellipse/><text>←</text></g><g id="k30-3" class="L" transform="translate(188 1570)"><ellipse/><text>←</text></g><g id="k30-4" class="L" transform="translate(240 1570)"><ellipse/><text>←</text></g><g id="k30-5" class="L" transform="translate(292 1570)"><ellipse/><text>←</text></g><g id="k30-6" class="L" transform="translate(344 1570)"><ellipse/><text>←</text></g><g id="k30-7" class="L" transform="translate(396 1570)"><ellipse/><text>←</text></g><g id="k30-8" class="L" transform="translate(448 1570)"><ellipse/><text>←</text></g><g id="k30-9" class="L" transform="translate(500 1570)"><ellipse/><text>←</text></g><g id="k30-10" class="L" transform="translate(552 1570)"><ellipse/><text>←</text></g><g id="k30-11" class="L" transform="translate(604 1570)"><ellipse/><text>←</text></g><g id="k30-12" class="D" transform="translate(656 1570)"><ellipse/><text>←</text></g><g id="k30-13" class="L" transform="translate(708 1570)"><ellipse/><text>←</text></g>
<g id="k31-1" class="Y" transform="translate(84 1622)"><ellipse/><text>→</text></g><g id="k31-2" class="D" transform="translate(136 1622)"><ellipse/><text>→</text></g><g id="k31-3" class="D" transform="translate(188 1622)"><ellipse/><text>→</text></g><g id="k31-4" class="D" transform="translate(240 1622)"><ellipse/><text>→</text></g><g id="k31-5" class="L" transform="translate(292 1622)"><ellipse/><text>→</text></g><g id="k31-6" class="L" transform="translate(344 1622)"><ellipse/><text>→</text></g><g id="k31-7" class="L" transform="translate(396 1622)"><ellipse/><text>→</text></g><g id="k31-8" class="L" transform="translate(448 1622)"><ellipse/><text>→</text></g><g id="k31-9" class="L" transform="translate(500 1622)"><ellipse/><text>→</text></g><g id="k31-10" class="L" transform="translate(552 1622)"><ellipse/><text>→</text></g><g id="k31-11" class="L" transform="translate(604 1622)"><ellipse/><text>→</text></g><g id="k31-12" class="L" transform="translate(656 1622)"><ellipse/><text>→</text></g><g id="k31-13" class="L" transform="translate(708 1622)"><ellipse/><text>→</text></g>
<g id="k32-1" class="R" transform="translate(84 1674)"><ellipse/><text>←</text></g><g id="k32-2" class="Y" transform="translate(136 1674)"><ellipse/><text>←</text></g><g id="k32-3" class="D" transform="translate(188 1674)"><ellipse/><text>←</text></g><g id="k32-4" class="D" transform="translate(240 1674)"><ellipse/><text>←</text></g><g id="k32-5" class="D" transform="translate(292 1674)"><ellipse/><text>←</text></g><g id="k32-6" class="D" transform="translate(344 1674)"><ellipse/><text>←</text></g><g id="k32-7" class="L" transform="translate(396 1674)"><ellipse/><text>←</text></g><g id="k32-8" class="L" transform="translate(448 1674)"><ellipse/><text>←</text></g><g id="k32-9" class="L" transform="translate(500 1674)"><ellipse/><text>←</text></g><g id="k32-10" class="L" transform="translate(552 1674)"><ellipse/><text>←</text></g><g id="k32-11" class="L" transform="translate(604 1674)"><ellipse/><text>←</text></g><g id="k32-12" class="L" transform="translate(656 1674)"><ellipse/><text>←</text></g><g id="k32-13" class="L" transform="translate(708 1674)"><ellipse/><text>←</text></g>
</g>
<text id="watermark" class="wm" x="320" y="874" textLength="153" lengthAdjust="spacingAndGlyphs">BRACELETBOOK.COM</text>
</svg>
